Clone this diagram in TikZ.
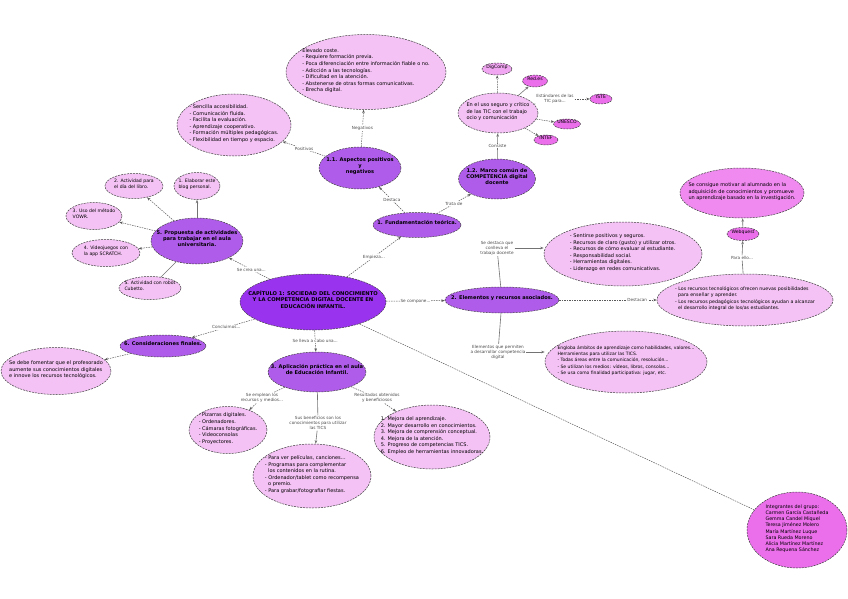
\documentclass[tikz,border=0pt]{standalone}
\usepackage{fontspec}
\setmainfont{DejaVu Sans}
\usetikzlibrary{shapes.geometric,arrows.meta}
\definecolor{mainv}{HTML}{9933EE}
\definecolor{midv}{HTML}{B05CEB}
\definecolor{lpink}{HTML}{F4C2F4}
\definecolor{magc}{HTML}{EB6FEB}
\definecolor{magl}{HTML}{F08AF0}
\definecolor{smallpk}{HTML}{F0A6F0}
\newcommand{\fMain}{\fontsize{5.2}{6.1}\selectfont\bfseries}
\newcommand{\fMid}{\fontsize{5.1}{6}\selectfont\bfseries}
\newcommand{\fBox}{\fontsize{5}{6.6}\selectfont}
\newcommand{\fSm}{\fontsize{4.6}{6}\selectfont}
\newcommand{\fLbl}{\fontsize{4.2}{5}\selectfont}
\newcommand{\zt}[2][l]{\makebox[0pt]{\raisebox{0pt}[0pt][0pt]{\begin{tabular}{@{}#1@{}}#2\end{tabular}}}}
\tikzset{
  nd/.style={ellipse, draw=black!75, line width=0.5pt, dash pattern=on 2pt off 1pt, inner sep=0pt},
  mainnd/.style={nd, fill=mainv, font=\fMain},
  midnd/.style={nd, fill=midv, font=\fMid},
  pk/.style={nd, fill=lpink, font=\fBox},
  mg/.style={nd, fill=magc, font=\fBox},
  sm/.style={nd, font=\fSm},
  lbl/.style={inner sep=0.8pt, fill=white, font=\fLbl, text=black!70, align=center},
  cn/.style={draw=black!65, line width=0.5pt, dash pattern=on 1.5pt off 1pt, -{Stealth[length=3.5pt,width=2.6pt]}},
  cns/.style={draw=black!55, line width=0.6pt, -{Stealth[length=3.5pt,width=2.6pt]}},
  ln/.style={draw=black!55, line width=0.6pt},
  lnd/.style={draw=black!65, line width=0.5pt, dash pattern=on 1.5pt off 1pt},
}
\begin{document}
\begin{tikzpicture}[x=1pt,y=-1pt]
\useasboundingbox[fill=white] (0,0) rectangle (848,599);

% central and main branches
\node[mainnd, minimum width=146pt, minimum height=56pt] (main) at (313,302)
  {\zt[c]{CAPÍTULO 1: SOCIEDAD DEL CONOCIMIENTO\\Y LA COMPETENCIA DIGITAL DOCENTE EN\\EDUCACIÓN INFANTIL.}};
\node[midnd, minimum width=88pt, minimum height=25pt] (f1) at (417,225) {\zt[c]{1. Fundamentación teórica.}};
\node[midnd, minimum width=82pt, minimum height=42pt] (f11) at (360,168) {\zt[c]{1.1. Aspectos positivos\\y\\negativos}};
\node[midnd, minimum width=77pt, minimum height=40pt] (f12) at (497,179) {\zt[c]{1.2. Marco común de\\COMPETENCIA digital\\docente}};
\node[midnd, minimum width=114pt, minimum height=26pt] (f2) at (502,300) {\zt[c]{2. Elementos y recursos asociados.}};
\node[midnd, minimum width=98pt, minimum height=40pt] (f3) at (317,372) {\zt[c]{3. Aplicación práctica en el aula\\de Educación Infantil.}};
\node[midnd, minimum width=92pt, minimum height=46pt] (f5) at (197,241) {\zt[c]{5. Propuesta de actividades\\para trabajar en el aula\\universitaria.}};
\node[midnd, minimum width=86pt, minimum height=22pt] (f6) at (163,346) {\zt[c]{6. Consideraciones finales.}};

% 1.1 children
\node[pk, minimum width=160pt, minimum height=75pt] (neg) at (366,72)
  {\zt{Elevado coste.\\- Requiere formación previa.\\- Poca diferenciación entre información fiable o no.\\- Adicción a las tecnologías.\\- Dificultad en la atención.\\- Abstenerse de otras formas comunicativas.\\- Brecha digital.}};
\node[pk, minimum width=114pt, minimum height=62pt] (pos) at (234,125)
  {\zt{- Sencilla accesibilidad.\\- Comunicación fluida.\\- Facilita la evaluación.\\- Aprendizaje cooperativo.\\- Formación múltiples pedagógicas.\\- Flexibilidad en tiempo y espacio.}};

% 1.2 children
\node[pk, minimum width=80pt, minimum height=40pt] (uso) at (498,113)
  {\zt{En el uso seguro y crítico\\de las TIC con el trabajo\\ocio y comunicación}};
\node[sm, fill=smallpk, minimum width=30pt, minimum height=12pt] (dig) at (497,69) {\zt[c]{DigComp}};
\node[sm, fill=magc, minimum width=25pt, minimum height=12pt] (red) at (535,81) {\zt[c]{Red.es}};
\node[sm, fill=magc, minimum width=22pt, minimum height=10pt] (iste) at (601,99) {\zt[c]{ISTE}};
\node[sm, fill=magc, minimum width=27pt, minimum height=10pt] (unesco) at (567,124) {\zt[c]{UNESCO}};
\node[sm, fill=magc, minimum width=24pt, minimum height=10pt] (intef) at (546,140) {\zt[c]{INTEF}};
\node[lbl] (lest) at (555,99) {Estándares de las\\TIC para...};

% 5 children
\node[pk, font=\fSm, minimum width=46pt, minimum height=27pt] (a1) at (197,186) {\zt{1. Elaborar este\\blog personal.}};
\node[pk, font=\fSm, minimum width=58pt, minimum height=25pt] (a2) at (134,186) {\zt{2. Actividad para\\el día del libro.}};
\node[pk, font=\fSm, minimum width=56pt, minimum height=27pt] (a3) at (94,216) {\zt{3. Uso del método\\VOWR.}};
\node[pk, font=\fSm, minimum width=68pt, minimum height=27pt] (a4) at (106,253) {\zt{4. Videojuegos con\\la app SCRATCH.}};
\node[pk, font=\fSm, minimum width=62pt, minimum height=23pt] (a5) at (150,288) {\zt{5. Actividad con robot\\Cubetto.}};

% 6 child
\node[pk, minimum width=110pt, minimum height=47pt] (fom) at (56,371)
  {\zt{Se debe fomentar que el profesorado\\aumente sus conocimientos digitales\\e innove los recursos tecnológicos.}};

% 3 children
\node[pk, minimum width=78pt, minimum height=47pt] (med) at (228,430)
  {\zt{- Pizarras digitales.\\- Ordenadores.\\- Cámaras fotográficas.\\- Videoconsolas\\- Proyectores.}};
\node[pk, minimum width=118pt, minimum height=64pt] (usos) at (312,476)
  {\zt{- Para ver películas, canciones...\\- Programas para complementar\\\ \ los contenidos en la rutina.\\- Ordenador/tablet como recompensa\\\ \ o premio.\\- Para grabar/fotografiar fiestas.}};
\node[pk, minimum width=116pt, minimum height=64pt] (res) at (432,437)
  {\zt{1. Mejora del aprendizaje.\\2. Mayor desarrollo en conocimientos.\\3. Mejora de comprensión conceptual.\\4. Mejora de la atención.\\5. Progreso de competencias TICS.\\6. Empleo de herramientas innovadoras.}};
\node[lbl] (lmed) at (262,398) {Se emplean los\\recursos y medios...};
\node[lbl] (lben) at (318,423) {Sus beneficios son los\\conocimientos para utilizar\\las TICS};
\node[lbl] (lres) at (377,398) {Resultados obtenidos\\y beneficiosos};

% 2 children
\node[pk, minimum width=158pt, minimum height=64pt] (doc) at (623,254)
  {\zt{- Sentirse positivos y seguros.\\- Recursos de claro (gusto) y utilizar otros.\\- Recursos de cómo evaluar al estudiante.\\- Responsabilidad social.\\- Herramientas digitales.\\- Liderazgo en redes comunicativas.}};
\node[pk, font=\fontsize{4.5}{6.2}\selectfont, minimum width=162pt, minimum height=62pt] (amb) at (626,362)
  {\zt{Engloba ámbitos de aprendizaje como habilidades, valores...\\Herramientas para utilizar las TICS.\\- Todas áreas entre la comunicación, resolución...\\- Se utilizan los medios: vídeos, libros, consolas...\\- Se usa como finalidad participativa: jugar, etc.}};
\node[pk, font=\fontsize{4.7}{6.4}\selectfont, minimum width=176pt, minimum height=52pt] (rec) at (745,300)
  {\zt{- Los recursos tecnológicos ofrecen nuevas posibilidades\\\ \ para enseñar y aprender.\\- Los recursos pedagógicos tecnológicos ayudan a alcanzar\\\ \ el desarrollo integral de los/as estudiantes.}};
\node[sm, fill=magc, minimum width=32pt, minimum height=13pt] (web) at (743,234) {\zt[c]{Webquest}};
\node[nd, fill=magl, font=\fBox, minimum width=124pt, minimum height=50pt] (mot) at (742,193)
  {\zt{Se consigue motivar al alumnado en la\\adquisición de conocimientos y promueve\\un aprendizaje basado en la investigación.}};
\node[lbl] (ldoc) at (497,248) {Se destaca que\\conlleva el\\trabajo docente};
\node[lbl] (lamb) at (498,352) {Elementos que permiten\\a desarrollar competencia\\digital};
\node[lbl] (lpara) at (742,258) {Para ello...};

% group members
\node[mg, font=\fontsize{4.8}{6.1}\selectfont, minimum width=100pt, minimum height=76pt] (grp) at (797,530)
  {\zt{Integrantes del grupo:\\Carmen García Castañeda\\Gemma Candel Miquel\\Teresa Jiménez Molero\\María Martínez Luque\\Sara Rueda Moreno\\Alicia Martínez Martínez\\Ana Requena Sánchez}};

% connectors from main
\draw[cn] (main) -- node[lbl, pos=0.5]{Empieza...} (f1);
\draw[cn] (main) -- node[lbl]{Se compone...} (f2);
\draw[cn] (main) -- node[lbl]{Se lleva a cabo una...} (f3);
\draw[cn] (main) -- node[lbl, pos=0.45]{Se crea una...} (f5);
\draw[cn] (main) -- node[lbl, pos=0.45]{Concluimos...} (f6);
\draw[lnd] (main) -- (grp);

% 1
\draw[cn] (f1) -- node[lbl]{Destaca} (f11);
\draw[cn] (f1) -- node[lbl]{Trata de} (f12);
\draw[cn] (f11) -- node[lbl]{Negativos} (neg);
\draw[cn] (f11) -- node[lbl]{Positivos} (pos);
\draw[cns] (f12) -- node[lbl]{Consiste} (uso);
\draw[cn] (uso) -- (dig);
\draw[cns] (uso) -- (red);
\draw[lnd] (uso) -- (lest);
\draw[cn] (lest) -- (iste);
\draw[cn] (uso) -- (unesco);
\draw[cn] (uso) -- (intef);

% 5
\draw[cns] (f5) -- (a1);
\draw[cn] (f5) -- (a2);
\draw[cn] (f5) -- (a3);
\draw[cn] (f5) -- (a4);
\draw[ln] (f5) -- (a5);

% 6
\draw[cn] (f6) -- (fom);

% 3
\draw[lnd] (f3) -- (lmed);
\draw[cn] (lmed) -- (med);
\draw[ln] (f3) -- (lben);
\draw[cns] (lben) -- (usos);
\draw[lnd] (f3) -- (lres);
\draw[cn] (lres) -- (res);

% 2
\draw[ln] (f2) -- (ldoc);
\draw[cns] (ldoc) -- (ldoc -| doc.west);
\draw[ln] (f2) -- (lamb);
\draw[cns] (lamb) -- (lamb -| amb.west);
\draw[cn] (f2) -- node[lbl, pos=0.8]{Destacan} (rec);
\draw[ln] (rec) -- (lpara);
\draw[cns] (lpara) -- (web);
\draw[cns] (web) -- (mot);
\end{tikzpicture}
\end{document}
